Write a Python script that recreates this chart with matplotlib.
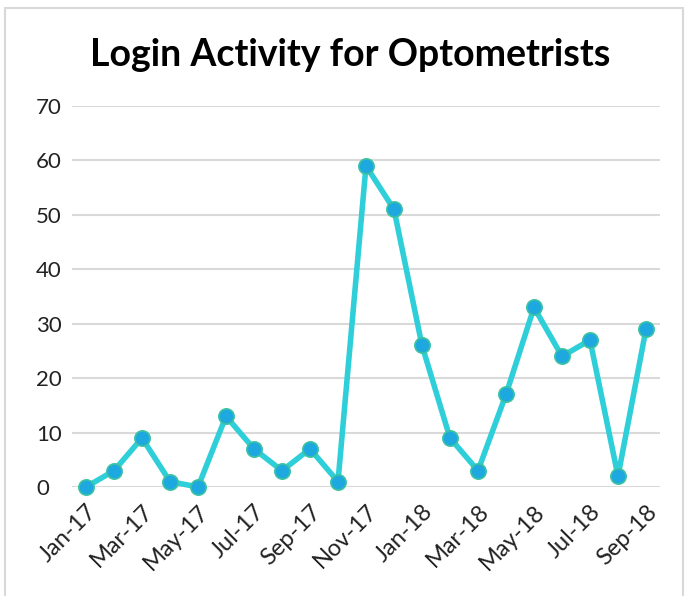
import matplotlib
matplotlib.use("Agg")
import matplotlib.pyplot as plt
from matplotlib.patches import Rectangle

# monthly logins, Jan-17 .. Sep-18
months = ["Jan-17", "Feb-17", "Mar-17", "Apr-17", "May-17", "Jun-17", "Jul-17",
          "Aug-17", "Sep-17", "Oct-17", "Nov-17", "Dec-17", "Jan-18", "Feb-18",
          "Mar-18", "Apr-18", "May-18", "Jun-18", "Jul-18", "Aug-18", "Sep-18"]
logins = [0, 3, 9, 1, 0, 13, 7, 3, 7, 1, 59, 51, 26, 9, 3, 17, 33, 24, 27, 2, 29]
y_ticks = [0, 10, 20, 30, 40, 50, 60, 70]

plt.rcParams['font.family'] = ['Lato', 'DejaVu Sans']

fig = plt.figure(figsize=(6.88, 5.96), dpi=100)
ax = fig.add_axes([72 / 688, 1 - 487 / 596, 588 / 688, 381 / 596])

# chart frame
fig.patches.append(Rectangle((5 / 688, -0.05), 678 / 688, 1 - 8 / 596 + 0.05,
                             transform=fig.transFigure, fill=False,
                             edgecolor='#d9d9d9', linewidth=1.5))

x = list(range(len(months)))
ax.plot(x, logins, color='#2ecfd9', linewidth=4, marker='o', markersize=11,
        markerfacecolor='#1ea8e0', markeredgecolor='#3cc4a0', markeredgewidth=1.2,
        zorder=3, clip_on=False)

ax.set_xlim(-0.5, len(months) - 0.5)
ax.set_ylim(0, 70)
ax.set_yticks(y_ticks)
ax.set_yticklabels([str(v) for v in y_ticks], fontsize=16, color='#222222')
ax.set_xticks(x[::2])
ax.set_xticklabels(months[::2], rotation=45, ha='right', rotation_mode='anchor',
                   fontsize=17, color='#222222')
ax.tick_params(axis='x', length=0, pad=10)
ax.tick_params(axis='y', length=0, pad=26)
for lbl in ax.get_yticklabels():
    lbl.set_horizontalalignment('left')

ax.grid(axis='y', color='#d9d9d9', linewidth=1.5)
ax.set_axisbelow(True)
for s in ax.spines.values():
    s.set_visible(False)

fig.text(350 / 688, 1 - 55 / 596, "Login Activity for Optometrists",
         ha='center', va='center', fontsize=27, fontweight='bold', color='black')

fig.savefig("out.png", dpi=100)
